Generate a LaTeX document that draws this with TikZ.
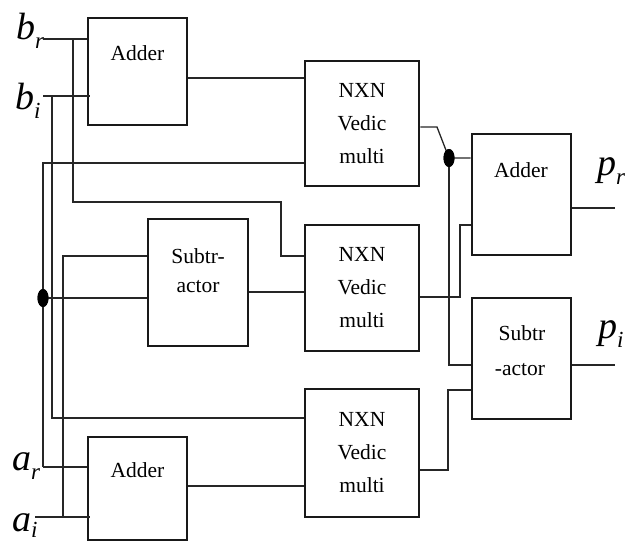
\documentclass[tikz,border=0pt]{standalone}
\usepackage{fontspec}
\setmainfont{Liberation Serif}
\usetikzlibrary{shapes.geometric,calc}

% signal name with a subscript, e.g. b_r; optional drop of the subscript
\newcommand\signame[3][9pt]{\fontsize{38}{40}\selectfont\itshape #2\raisebox{-#1}{\fontsize{23}{24}\selectfont #3}}

\tikzset{
  blk/.style={draw=black!90, line width=2.6pt, inner sep=0pt, fill=white},
  vtxt/.style={align=center, font=\fontsize{21.5}{33}\selectfont},
  txt/.style={anchor=base, inner sep=0pt, font=\fontsize{21.5}{26}\selectfont},
  wire/.style={draw=black!85, line width=1.3pt},
  joint/.style={ellipse, fill=black, minimum width=11pt, minimum height=18pt, inner sep=0pt},
  sig/.style={anchor=base west, inner sep=0pt}
}

\begin{document}
\begin{tikzpicture}[x=1pt, y=-1pt]
\useasboundingbox (0,0) rectangle (634,543);

% ---- blocks ----
\node[blk, minimum width=99pt,  minimum height=107pt] (add1) at (137.5,71.5) {};
\node[blk, minimum width=99pt,  minimum height=103pt] (add2) at (137.5,488.5) {};
\node[blk, minimum width=100pt, minimum height=127pt] (sub1) at (198,282.5) {};
\node[blk, vtxt, minimum width=114pt, minimum height=125pt] (nxn1) at (362,123.5) {NXN\\Vedic\\multi};
\node[blk, vtxt, minimum width=114pt, minimum height=126pt] (nxn2) at (362,288) {NXN\\Vedic\\multi};
\node[blk, vtxt, minimum width=114pt, minimum height=128pt] (nxn3) at (362,453) {NXN\\Vedic\\multi};
\node[blk, minimum width=99pt,  minimum height=121pt] (add3) at (521.5,194.5) {};
\node[blk, minimum width=99pt,  minimum height=121pt] (sub2) at (521.5,358.5) {};

% ---- block captions ----
\node[txt] (tadd1) at (137.5,60) {Adder};
\node[txt] (tadd2) at (137.5,477) {Adder};
\node[txt] (tadd3) at (521,177) {Adder};
\node[txt] (tsub1a) at (198,263) {Subtr-};
\node[txt] (tsub1b) at (198,292) {actor};
\node[txt] (tsub2a) at (522,340) {Subtr};
\node[txt] (tsub2b) at (520,375) {-actor};

% ---- terminals ----
\coordinate (br) at (43,39);
\coordinate (bi) at (43,96);
\coordinate (ar) at (43,467);
\coordinate (ai) at (35,517);
\coordinate (pr) at (615,208);
\coordinate (pi) at (615,365);

\node[sig] (lbr) at (16,40)  {\signame{b}{r}};
\node[sig] (lbi) at (15,109) {\signame{b}{i}};
\node[sig] (lar) at (12,470) {\signame{a}{r}};
\node[sig] (lai) at (12,531) {\signame[6pt]{a}{i}};
\node[sig] (lpr) at (597,175) {\signame{p}{r}};
\node[sig] (lpi) at (598,338) {\signame{p}{i}};

% ---- junction dots ----
\node[joint] (dotl) at (43,298) {};
\node[joint] (dotr) at (449,158) {};

% ---- input wiring ----
\draw[wire] (br) -- (br -| add1.west);
\draw[wire] (bi) -- ([xshift=3pt]bi -| add1.west);
\draw[wire] (br -| 73,0) |- (281,202) |- (nxn2.west |- 0,256);
\draw[wire] (bi -| 52,0) |- (nxn3.west |- 0,418);
\draw[wire] (ar) -- (ar -| add2.west);
\draw[wire] (ar) |- (nxn1.west |- 0,163);
\draw[wire] (dotl.center) -- (dotl.center -| sub1.west);
\draw[wire] (ai) -- ([xshift=3pt]ai -| add2.west);
\draw[wire] (ai -| 63,0) |- (sub1.west |- 0,256);

% ---- first stage outputs ----
\draw[wire] (add1.east |- 0,78) -- (nxn1.west |- 0,78);
\draw[wire] (sub1.east |- 0,292) -- (nxn2.west |- 0,292);
\draw[wire] (add2.east |- 0,486) -- (nxn3.west |- 0,486);

% ---- multiplier outputs ----
\draw[wire] (nxn1.east |- 0,127) -- (437,127) -- (dotr.center) -- (dotr.center -| add3.west);
\draw[wire] (dotr.center) |- (sub2.west |- 0,365);
\draw[wire] (nxn2.east |- 0,297) -| (460,225) -- (add3.west |- 0,225);
\draw[wire] (nxn3.east |- 0,470) -| (448,390) -- (sub2.west |- 0,390);

% ---- results ----
\draw[wire] (add3.east |- pr) -- (pr);
\draw[wire] (sub2.east |- pi) -- (pi);

% dots on top of the wires
\node[joint] at (dotl) {};
\node[joint] at (dotr) {};
\end{tikzpicture}
\end{document}
